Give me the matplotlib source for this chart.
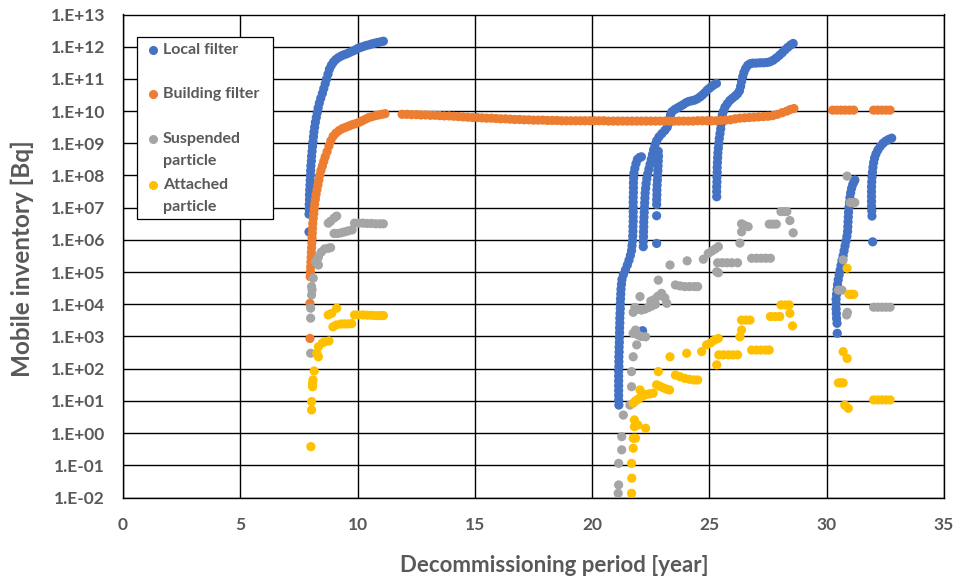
import numpy as np
import matplotlib
matplotlib.use("Agg")
import matplotlib.pyplot as plt
from matplotlib.patches import Rectangle
from matplotlib.lines import Line2D

plt.rcParams['font.family'] = ['Lato', 'DejaVu Sans']

# ---------------- data: (year, log10 of Bq) ----------------
local_pts = [
    (7.93, 6.25),
    (7.93, 6.8), (7.94, 6.95), (7.94, 7.1), (7.95, 7.25), (7.95, 7.4), (7.96, 7.55), (7.97, 7.7), (7.98, 7.85),
    (7.99, 8.0), (8.0, 8.15), (8.01, 8.3), (8.03, 8.45), (8.04, 8.6), (8.06, 8.75), (8.08, 8.9), (8.1, 9.05),
    (8.12, 9.2), (8.14, 9.35), (8.17, 9.5), (8.2, 9.65), (8.24, 9.8), (8.28, 9.95), (8.32, 10.1), (8.37, 10.25),
    (8.43, 10.4), (8.5, 10.55), (8.56, 10.7), (8.62, 10.85), (8.68, 11.0), (8.74, 11.15), (8.8, 11.3),
    (8.88, 11.42), (8.97, 11.52), (9.07, 11.6), (9.18, 11.66), (9.3, 11.71), (9.42, 11.75), (9.54, 11.78),
    (9.66, 11.82), (9.78, 11.86), (9.9, 11.9), (10.02, 11.95), (10.14, 11.98), (10.26, 12.01), (10.38, 12.04),
    (10.5, 12.06), (10.62, 12.09), (10.74, 12.11), (10.86, 12.13), (10.98, 12.15), (11.1, 12.17),
    # second campaign, strand A
    (21.14, 0.87), (21.13, 1.02), (21.13, 1.17), (21.13, 1.32), (21.13, 1.47), (21.13, 1.62), (21.13, 1.77),
    (21.13, 1.92), (21.14, 2.07), (21.14, 2.22), (21.14, 2.37), (21.15, 2.52), (21.15, 2.67), (21.16, 2.82),
    (21.16, 2.97), (21.17, 3.12), (21.17, 3.27), (21.18, 3.42), (21.18, 3.57), (21.19, 3.72), (21.2, 3.87),
    (21.2, 4.02), (21.21, 4.17), (21.22, 4.32), (21.23, 4.47), (21.25, 4.62), (21.27, 4.77), (21.33, 4.92),
    (21.42, 5.07), (21.5, 5.22), (21.57, 5.37), (21.63, 5.52), (21.68, 5.67), (21.7, 5.82), (21.72, 5.97),
    (21.73, 6.12), (21.74, 6.27), (21.74, 6.42), (21.75, 6.57), (21.75, 6.72), (21.75, 6.87), (21.75, 7.02),
    (21.75, 7.17), (21.75, 7.32), (21.76, 7.47), (21.76, 7.62), (21.76, 7.77), (21.77, 7.92), (21.78, 8.07),
    (21.82, 8.22), (21.87, 8.37), (21.93, 8.5), (22.02, 8.56), (22.1, 8.58),
    (22.15, 3.18),
    # strand B
    (22.18, 5.79), (22.18, 5.95), (22.19, 6.1), (22.19, 6.25), (22.2, 6.4), (22.2, 6.55), (22.21, 6.7),
    (22.22, 6.85), (22.23, 7.0), (22.24, 7.15), (22.25, 7.3), (22.26, 7.45), (22.28, 7.6), (22.3, 7.75),
    (22.33, 7.9), (22.37, 8.05), (22.42, 8.2), (22.47, 8.35), (22.52, 8.5), (22.57, 8.65), (22.62, 8.8),
    (22.68, 8.95), (22.75, 9.08), (22.85, 9.2), (22.97, 9.3), (23.1, 9.4), (23.2, 9.5), (23.26, 9.62),
    (23.3, 9.75), (23.34, 9.88), (23.4, 9.98), (23.52, 10.05), (23.64, 10.1), (23.76, 10.15), (23.88, 10.2),
    (24.0, 10.26), (24.12, 10.3), (24.24, 10.32), (24.36, 10.34), (24.48, 10.38), (24.6, 10.44),
    (24.7, 10.5), (24.8, 10.57), (24.9, 10.65), (25.0, 10.71), (25.1, 10.77), (25.2, 10.82), (25.3, 10.86),
    # strand C
    (22.75, 5.89), (22.75, 6.75), (22.75, 7.1), (22.75, 7.25), (22.76, 7.4), (22.76, 7.55), (22.77, 7.7),
    (22.78, 7.85), (22.79, 8.0), (22.8, 8.15), (22.81, 8.3), (22.82, 8.45), (22.83, 8.6), (22.82, 8.75),
    # third campaign
    (25.31, 7.34), (25.31, 7.5), (25.31, 7.65), (25.32, 7.8), (25.32, 7.95), (25.33, 8.1), (25.33, 8.25),
    (25.34, 8.4), (25.35, 8.55), (25.36, 8.7), (25.38, 8.85), (25.4, 9.0), (25.42, 9.15), (25.45, 9.3),
    (25.48, 9.45), (25.5, 9.6), (25.52, 9.75), (25.55, 9.88), (25.6, 10.0), (25.66, 10.12), (25.76, 10.23),
    (25.87, 10.33), (25.98, 10.4), (26.1, 10.47), (26.2, 10.54), (26.28, 10.63), (26.33, 10.77),
    (26.37, 10.92), (26.42, 11.07), (26.47, 11.2), (26.54, 11.32), (26.63, 11.42), (26.73, 11.47),
    (26.85, 11.49), (27.0, 11.49), (27.15, 11.5), (27.3, 11.5), (27.45, 11.51), (27.58, 11.53),
    (27.72, 11.58), (27.85, 11.65), (27.98, 11.73), (28.1, 11.81), (28.22, 11.9), (28.34, 11.98),
    (28.46, 12.05), (28.57, 12.1),
    # fourth campaign
    (30.45, 3.1), (30.44, 3.41), (30.42, 3.56), (30.41, 3.71), (30.4, 3.86), (30.4, 4.01), (30.4, 4.16),
    (30.42, 4.31), (30.44, 4.46), (30.46, 4.61), (30.49, 4.76), (30.53, 4.91), (30.57, 5.06), (30.61, 5.21),
    (30.65, 5.36), (30.7, 5.51), (30.74, 5.66), (30.78, 5.81), (30.82, 5.96), (30.86, 6.11), (30.89, 6.26),
    (30.9, 6.41), (30.91, 6.56), (30.92, 6.71), (30.93, 6.86), (30.95, 7.01), (30.97, 7.16), (30.99, 7.31),
    (31.02, 7.46), (31.06, 7.6), (31.11, 7.72), (31.16, 7.8), (31.2, 7.86),
    (31.96, 5.94), (31.93, 6.74), (31.92, 6.9), (31.91, 7.05), (31.91, 7.2), (31.91, 7.35), (31.91, 7.5),
    (31.91, 7.65), (31.92, 7.8), (31.93, 7.95), (31.95, 8.1), (31.97, 8.25), (32.0, 8.4), (32.04, 8.54),
    (32.1, 8.67), (32.18, 8.79), (32.28, 8.9), (32.4, 9.0), (32.52, 9.07), (32.64, 9.12), (32.77, 9.16),
]

building_pts = [
    (7.97, 2.94), (7.97, 4.03),
    (7.98, 4.86), (7.99, 5.01), (8.0, 5.16), (8.01, 5.31), (8.02, 5.46), (8.03, 5.61), (8.04, 5.76),
    (8.05, 5.91), (8.06, 6.06), (8.07, 6.21), (8.08, 6.36), (8.09, 6.51), (8.11, 6.66), (8.13, 6.81),
    (8.15, 6.96), (8.17, 7.11), (8.2, 7.26), (8.23, 7.41), (8.27, 7.56), (8.31, 7.71), (8.35, 7.86),
    (8.39, 8.01), (8.44, 8.16), (8.5, 8.3), (8.56, 8.44), (8.62, 8.58), (8.7, 8.74), (8.78, 8.92),
    (8.86, 9.08), (8.96, 9.22), (9.08, 9.32), (9.22, 9.4), (9.36, 9.46), (9.5, 9.5), (9.64, 9.54),
    (9.78, 9.58), (9.92, 9.61), (10.06, 9.65), (10.2, 9.7), (10.34, 9.75), (10.48, 9.8), (10.62, 9.83),
    (10.76, 9.86), (10.9, 9.88), (11.04, 9.9), (11.17, 9.92),
    (11.9, 9.90), (12.1, 9.90), (12.3, 9.89), (12.5, 9.89), (12.7, 9.88), (12.9, 9.88), (13.1, 9.87),
    (13.3, 9.87), (13.5, 9.86), (13.7, 9.85), (13.9, 9.85), (14.1, 9.84), (14.3, 9.83), (14.5, 9.82),
    (14.7, 9.81), (14.9, 9.80), (15.1, 9.80), (15.3, 9.79), (15.5, 9.78), (15.7, 9.78), (15.9, 9.77),
    (16.1, 9.76), (16.3, 9.76), (16.5, 9.75), (16.7, 9.74), (16.9, 9.74), (17.1, 9.73), (17.3, 9.73),
    (17.5, 9.72), (17.7, 9.72), (17.9, 9.72), (18.1, 9.71), (18.3, 9.71), (18.5, 9.71), (18.7, 9.70),
    (18.9, 9.70), (19.1, 9.70), (19.3, 9.70), (19.5, 9.70), (19.7, 9.70), (19.9, 9.70), (20.1, 9.70),
    (20.3, 9.70), (20.5, 9.70), (20.7, 9.69), (20.9, 9.69), (21.1, 9.69), (21.3, 9.69), (21.5, 9.69),
    (21.7, 9.69), (21.9, 9.69), (22.1, 9.69), (22.3, 9.69), (22.5, 9.69), (22.7, 9.69), (22.9, 9.69),
    (23.1, 9.69), (23.3, 9.69), (23.5, 9.69), (23.7, 9.69), (23.9, 9.69), (24.1, 9.69), (24.3, 9.69),
    (24.5, 9.70), (24.7, 9.70), (24.9, 9.70), (25.1, 9.70), (25.3, 9.70), (25.5, 9.71), (25.7, 9.72),
    (25.9, 9.73), (26.1, 9.76), (26.3, 9.78), (26.5, 9.79), (26.7, 9.80), (26.9, 9.81), (27.1, 9.82),
    (27.3, 9.83), (27.5, 9.84), (27.7, 9.86), (27.9, 9.90), (28.1, 9.95), (28.3, 10.0), (28.45, 10.05),
    (28.6, 10.08),
    (30.25, 10.03), (30.43, 10.03), (30.61, 10.03), (30.79, 10.03), (30.97, 10.03), (31.15, 10.03),
    (32.0, 10.03), (32.18, 10.03), (32.36, 10.03), (32.54, 10.03), (32.7, 10.03),
]

suspended_pts = [
    (8.0, 2.48), (8.0, 3.57), (8.0, 3.88), (8.04, 4.29), (8.06, 4.45), (8.04, 4.55), (8.11, 4.81),
    (8.33, 5.22), (8.2, 5.32), (8.3, 5.42), (8.33, 5.48), (8.45, 5.62), (8.6, 5.72), (8.75, 5.74),
    (8.85, 5.76), (8.75, 6.52), (8.85, 6.58), (9.11, 6.74), (9.0, 6.68),
    (9.0, 6.2), (9.15, 6.2), (9.3, 6.22), (9.45, 6.25), (9.6, 6.28), (9.77, 6.31),
    (9.87, 6.52), (10.05, 6.52), (10.23, 6.52), (10.41, 6.51), (10.59, 6.51), (10.77, 6.5), (10.95, 6.5),
    (11.1, 6.5),
    (21.11, -1.87), (21.13, -1.61), (21.13, -0.94), (21.26, -0.52), (21.26, -0.11), (21.33, 0.56),
    (21.61, 0.87), (21.68, 1.44), (21.68, 1.91), (21.75, 2.37), (21.9, 2.74), (21.75, 3.1), (21.85, 3.2),
    (21.95, 3.05), (22.1, 3.0), (22.28, 2.99), (21.75, 3.75), (21.82, 3.9), (21.95, 3.85), (22.1, 3.82),
    (22.25, 3.85), (22.4, 3.9), (22.55, 3.95), (22.7, 4.0), (22.04, 4.24), (22.5, 4.1), (22.65, 4.15),
    (22.8, 4.25), (22.96, 4.34), (23.18, 4.03), (23.1, 4.2), (22.82, 4.75), (23.32, 5.22),
    (23.55, 4.6), (23.75, 4.57), (23.95, 4.55), (24.15, 4.55), (24.35, 4.55), (24.5, 4.55),
    (24.05, 5.35), (24.74, 5.4), (24.95, 5.58), (25.1, 5.65), (25.25, 5.72), (25.38, 5.79),
    (25.31, 5.01), (25.38, 4.98), (25.35, 5.29), (25.55, 5.29), (25.75, 5.29), (25.95, 5.29), (26.2, 5.29),
    (26.3, 5.9), (26.37, 6.25), (26.37, 6.5), (26.5, 6.45), (26.65, 6.41),
    (26.8, 5.43), (27.0, 5.43), (27.2, 5.43), (27.4, 5.43), (27.6, 5.43),
    (27.55, 6.49), (27.7, 6.49), (27.85, 6.49), (28.05, 6.88), (28.2, 6.88), (28.3, 6.88),
    (28.43, 6.6), (28.57, 6.22),
    (30.87, 7.98), (31.0, 7.16), (31.1, 7.16), (31.2, 7.16), (30.7, 5.38), (30.5, 4.44), (30.65, 4.44),
    (30.85, 3.67), (30.88, 3.75),
    (32.0, 3.91), (32.18, 3.91), (32.36, 3.91), (32.54, 3.91), (32.7, 3.91),
]

attached_pts = [
    (8.01, -0.42), (8.04, 0.72), (8.04, 0.98), (8.08, 1.44), (8.08, 1.55), (8.1, 1.65), (8.15, 1.93),
    (8.26, 2.48), (8.33, 2.37), (8.33, 2.68), (8.5, 2.8), (8.62, 2.84), (8.78, 2.86),
    (8.75, 3.67), (8.9, 3.72), (9.11, 3.88),
    (8.95, 3.3), (9.1, 3.36), (9.3, 3.39), (9.45, 3.39), (9.6, 3.39), (9.75, 3.4),
    (9.87, 3.67), (10.05, 3.67), (10.23, 3.67), (10.41, 3.66), (10.59, 3.66), (10.77, 3.65),
    (10.95, 3.65), (11.1, 3.65),
    (21.68, -1.87), (21.69, -1.4), (21.68, -0.94), (21.75, -0.47), (21.75, -0.16), (21.85, -0.16),
    (21.8, 0.2), (21.8, 0.41), (21.95, 0.25), (22.28, 0.15), (21.75, 0.93), (21.85, 1.0), (21.95, 1.05),
    (22.05, 1.1), (22.15, 1.15), (22.3, 1.2), (22.45, 1.22), (22.6, 1.24), (22.04, 1.34),
    (22.75, 1.5), (22.9, 1.45), (23.05, 1.4), (23.2, 1.36), (23.3, 1.34), (22.82, 1.91),
    (23.55, 1.8), (23.75, 1.75), (23.95, 1.7), (24.15, 1.67), (24.35, 1.65), (24.5, 1.65),
    (23.32, 2.37), (24.03, 2.48), (24.67, 2.53), (24.88, 2.74), (25.05, 2.8), (25.2, 2.88), (25.38, 2.94),
    (25.31, 2.12), (25.4, 2.43), (25.6, 2.43), (25.8, 2.43), (26.0, 2.43), (26.2, 2.43),
    (26.3, 2.99), (26.37, 3.2), (26.37, 3.51), (26.55, 3.51), (26.73, 3.51),
    (26.8, 2.58), (27.0, 2.58), (27.2, 2.58), (27.4, 2.58), (27.55, 2.58),
    (27.6, 3.62), (27.8, 3.62), (28.0, 3.62), (28.05, 3.98), (28.25, 3.98), (28.4, 3.98),
    (28.43, 3.72), (28.54, 3.33),
    (30.87, 5.12), (30.95, 4.31), (31.05, 4.31), (31.15, 4.31), (30.7, 2.53), (30.87, 2.32),
    (30.5, 1.56), (30.6, 1.56), (30.7, 1.56), (30.77, 0.87), (30.92, 0.77),
    (32.0, 1.03), (32.18, 1.03), (32.36, 1.03), (32.54, 1.03), (32.7, 1.03),
]

series_names = ["Local filter", "Building filter", "Suspended\nparticle", "Attached\nparticle"]
series_colors = ["#4472C4", "#ED7D31", "#A5A5A5", "#FFC000"]
series_pts = [local_pts, building_pts, suspended_pts, attached_pts]

y_exponents = list(range(-2, 14))
y_tick_labels = [("1.E+%02d" % e) if e >= 0 else ("1.E-%02d" % (-e)) for e in y_exponents]
x_ticks = [0, 5, 10, 15, 20, 25, 30, 35]

TEXT = "#595959"

fig = plt.figure(figsize=(9.55, 5.8), dpi=100)
ax = fig.add_axes([123 / 955, 1 - 497.5 / 580, (944 - 123) / 955, (497.5 - 14.5) / 580])

for pts, col in zip(series_pts, series_colors):
    xs = np.array([p[0] for p in pts])
    ys = 10.0 ** np.array([p[1] for p in pts])
    ax.scatter(xs, ys, s=44, color=col, edgecolors='none', zorder=3)

ax.set_yscale('log')
ax.set_ylim(1e-2, 1e13)
ax.set_xlim(0, 35)
ax.set_yticks([10.0 ** e for e in y_exponents])
ax.set_yticklabels(y_tick_labels)
ax.yaxis.set_minor_locator(matplotlib.ticker.NullLocator())
ax.set_xticks(x_ticks)
ax.set_xticklabels([str(t) for t in x_ticks])
ax.grid(True, which='major', color='black', linewidth=1.0)
ax.set_axisbelow(True)
for sp in ax.spines.values():
    sp.set_color('black')
    sp.set_linewidth(1.0)
ax.tick_params(axis='both', length=0, labelcolor=TEXT, labelsize=12.5)
ax.tick_params(axis='y', pad=13)
ax.tick_params(axis='x', pad=14)
for lbl in ax.get_xticklabels() + ax.get_yticklabels():
    lbl.set_fontweight('bold')

ax.set_xlabel("Decommissioning period [year]", fontsize=16, fontweight='bold', color=TEXT)
ax.set_ylabel("Mobile inventory [Bq]", fontsize=17.5, fontweight='bold', color=TEXT)
ax.xaxis.set_label_coords((554 - 123) / 821, -(565 - 497.5) / 483, transform=ax.transAxes)
ax.yaxis.set_label_coords(-(123 - 22) / 821, 1 - (259 - 14.5) / 483, transform=ax.transAxes)
ax.xaxis.label.set_va('center')
ax.yaxis.label.set_va('center')

# legend (drawn manually to mimic the spreadsheet layout)
W, H = 955.0, 580.0
fig.add_artist(Rectangle((137.3 / W, 1 - 218.7 / H), (272.7 - 137.3) / W, (218.7 - 37.3) / H,
                         transform=fig.transFigure, facecolor='white', edgecolor='black',
                         linewidth=0.9, zorder=10))
entry_rows = [[50.0], [94.0], [139.3, 161.0], [185.0, 206.5]]
for name, col, rows in zip(series_names, series_colors, entry_rows):
    fig.add_artist(Line2D([152.7 / W], [1 - rows[0] / H], marker='o', markersize=5.5,
                          color=col, linestyle='none', transform=fig.transFigure, zorder=11))
    for line_text, ry in zip(name.split("\n"), rows):
        fig.text(162.7 / W, 1 - ry / H, line_text, va='center', ha='left', fontsize=11.5,
                 fontweight='bold', color=TEXT, zorder=12)

fig.savefig("out.png", dpi=100)
